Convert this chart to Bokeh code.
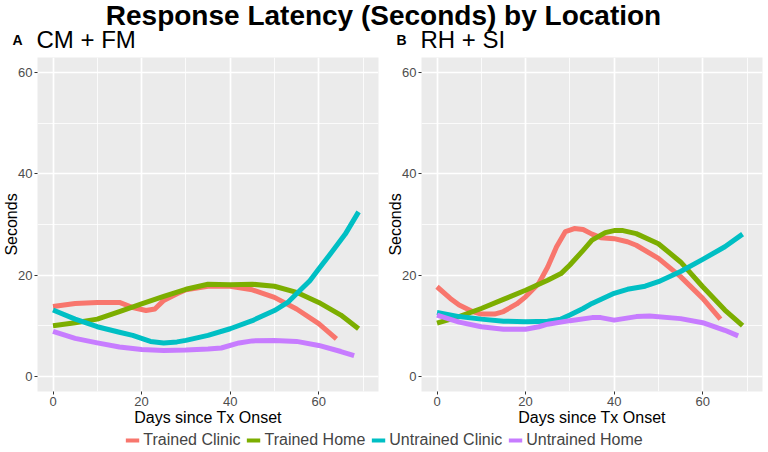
from bokeh.plotting import figure
from bokeh.models import Range1d, FixedTicker, Legend, LegendItem
from bokeh.layouts import column, row
from bokeh.embed import file_html
from bokeh.resources import INLINE
from bokeh.core.properties import value

FONT = "Liberation Sans"

main_title = "Response Latency (Seconds) by Location"
panel_letters = ["A", "B"]
panel_titles = ["CM + FM", "RH + SI"]
series_names = ["Trained Clinic", "Trained Home", "Untrained Clinic", "Untrained Home"]
colors = ["#F8766D", "#7CAE00", "#00BFC4", "#C77CFF"]
x_ticks = [0, 20, 40, 60]
x_minor = [10, 30, 50, 70]
y_ticks = [0, 20, 40, 60]
y_minor = [10, 30, 50]

# Panel A: CM + FM
a_tc_days = [0, 5, 10, 15, 18, 21, 23, 25, 28, 30, 35, 40, 45, 50, 55, 60, 64]
a_tc_sec = [13.8, 14.4, 14.6, 14.6, 13.6, 13.0, 13.3, 15.0, 16.3, 17.1, 17.8, 17.8, 17.1, 15.6, 13.3, 10.4, 7.4]
a_th_days = [0, 5, 10, 15, 20, 25, 30, 35, 40, 45, 50, 55, 60, 65, 69]
a_th_sec = [10.0, 10.6, 11.3, 12.8, 14.3, 15.8, 17.2, 18.2, 18.1, 18.2, 17.8, 16.6, 14.6, 12.1, 9.4]
a_uc_days = [0, 5, 10, 15, 18, 22, 25, 28, 30, 35, 40, 45, 50, 53, 55, 58, 60, 63, 66, 69]
a_uc_sec = [13.1, 11.3, 9.8, 8.7, 8.1, 6.9, 6.6, 6.8, 7.1, 8.1, 9.4, 11.0, 13.0, 14.6, 16.3, 18.9, 21.2, 24.6, 28.1, 32.5]
a_uh_days = [0, 5, 10, 15, 20, 25, 30, 35, 38, 42, 45, 50, 55, 60, 65, 68]
a_uh_sec = [8.9, 7.5, 6.6, 5.8, 5.3, 5.1, 5.2, 5.4, 5.6, 6.6, 7.0, 7.1, 6.9, 6.1, 4.9, 4.1]

# Panel B: RH + SI
b_tc_days = [0, 3, 5, 8, 10, 13, 15, 18, 20, 23, 25, 27, 29, 31, 33, 35, 37, 40, 43, 45, 50, 55, 60, 64]
b_tc_sec = [17.7, 15.4, 14.1, 12.8, 12.3, 12.3, 12.8, 14.3, 15.7, 18.4, 21.6, 25.6, 28.6, 29.2, 29.0, 28.1, 27.4, 27.2, 26.6, 25.9, 23.3, 19.7, 15.4, 11.3]
b_th_days = [0, 5, 10, 15, 20, 25, 28, 30, 33, 35, 38, 40, 42, 45, 50, 55, 60, 65, 69]
b_th_sec = [10.5, 11.8, 13.4, 15.2, 17.0, 19.0, 20.3, 22.0, 24.9, 26.9, 28.4, 28.8, 28.8, 28.2, 26.2, 22.6, 17.7, 13.1, 10.0]
b_uc_days = [0, 5, 10, 15, 20, 25, 28, 30, 33, 35, 40, 43, 47, 50, 55, 60, 65, 69]
b_uc_sec = [12.6, 11.8, 11.3, 10.9, 10.8, 10.9, 11.3, 12.1, 13.4, 14.4, 16.4, 17.2, 17.8, 18.7, 20.7, 23.1, 25.6, 28.1]
b_uh_days = [0, 5, 10, 15, 20, 23, 25, 30, 35, 37, 40, 45, 48, 55, 60, 65, 68]
b_uh_sec = [12.1, 10.7, 9.8, 9.3, 9.3, 9.8, 10.3, 11.0, 11.6, 11.6, 11.1, 11.8, 11.9, 11.4, 10.6, 9.1, 8.0]

panel_a = [(a_tc_days, a_tc_sec), (a_th_days, a_th_sec), (a_uc_days, a_uc_sec), (a_uh_days, a_uh_sec)]
panel_b = [(b_tc_days, b_tc_sec), (b_th_days, b_th_sec), (b_uc_days, b_uc_sec), (b_uh_days, b_uh_sec)]

TOTAL_W = 768
PANEL_W = 384
BORDER_L = 36
BORDER_R = 6
TITLE_H = 57
PANEL_H = 371
LEGEND_H = 24


def make_panel(series):
    p = figure(width=PANEL_W, height=PANEL_H, title=None,
               x_range=Range1d(-3.5, 73.5), y_range=Range1d(-3, 63),
               output_backend="svg", toolbar_location=None,
               min_border_left=BORDER_L, min_border_right=BORDER_R,
               min_border_top=0, min_border_bottom=36,
               x_axis_label="Days since Tx Onset", y_axis_label="Seconds")
    p.background_fill_color = "#EBEBEB"
    p.border_fill_color = "white"
    p.outline_line_color = None
    p.xaxis.ticker = FixedTicker(ticks=x_ticks, minor_ticks=x_minor)
    p.yaxis.ticker = FixedTicker(ticks=y_ticks, minor_ticks=y_minor)
    for ax in p.axis:
        ax.axis_line_color = None
        ax.major_tick_line_color = "#333333"
        ax.major_tick_out = 3
        ax.major_tick_in = 0
        ax.minor_tick_line_color = None
        ax.major_label_text_font = FONT
        ax.major_label_text_font_size = "13px"
        ax.major_label_text_color = "#4D4D4D"
        ax.major_label_standoff = 1
        ax.axis_label_text_font = FONT
        ax.axis_label_text_font_size = "16px"
        ax.axis_label_text_font_style = "normal"
        ax.axis_label_text_color = "black"
        ax.axis_label_standoff = 0
    p.yaxis.axis_label_standoff = -5
    p.grid.grid_line_color = "white"
    p.grid.grid_line_width = 1.7
    p.grid.minor_grid_line_color = "white"
    p.grid.minor_grid_line_width = 0.8
    for (d, s), c in zip(series, colors):
        p.line(d, s, line_color=c, line_width=5, line_join="round")
    return p


pA = make_panel(panel_a)
pB = make_panel(panel_b)

# Title strip (screen-like coordinates, y downward)
t = figure(width=TOTAL_W, height=TITLE_H, title=None,
           x_range=Range1d(0, TOTAL_W), y_range=Range1d(TITLE_H, 0),
           output_backend="svg", toolbar_location=None, min_border=0,
           x_axis_type=None, y_axis_type=None)
t.outline_line_color = None
t.text(x=[383], y=[15], text=[main_title], text_font=value(FONT), text_font_size="28px",
       text_font_style="bold", text_align="center", text_baseline="alphabetic", text_color="black")
frame_lefts = [BORDER_L, PANEL_W + BORDER_L]
t.text(x=[fl - 24 for fl in frame_lefts], y=[39, 39], text=panel_letters, text_font=value(FONT),
       text_font_size="14px", text_font_style="bold", text_align="left", text_baseline="alphabetic",
       text_color="black")
t.text(x=frame_lefts, y=[39, 39], text=panel_titles, text_font=value(FONT),
       text_font_size="24px", text_align="left", text_baseline="alphabetic", text_color="black")

# Legend strip
nan = float("nan")
lg = figure(width=TOTAL_W, height=LEGEND_H, title=None,
            x_range=Range1d(0, 1), y_range=Range1d(0, 1),
            output_backend="svg", toolbar_location=None, min_border=0,
            x_axis_type=None, y_axis_type=None)
lg.outline_line_color = None
items = []
for name, c in zip(series_names, colors):
    r = lg.line(x=[nan], y=[nan], line_color=c, line_width=4)
    items.append(LegendItem(label=name, renderers=[r]))
legend = Legend(items=items, orientation="horizontal", location="center",
                label_text_font=FONT, label_text_font_size="16px",
                glyph_width=14, glyph_height=16, label_height=16, label_standoff=4,
                spacing=6, padding=0, margin=0, border_line_color=None,
                background_fill_alpha=0)
lg.add_layout(legend)

layout = column(t, row(pA, pB), lg)
open("out.html", "w").write(file_html(layout, INLINE))
